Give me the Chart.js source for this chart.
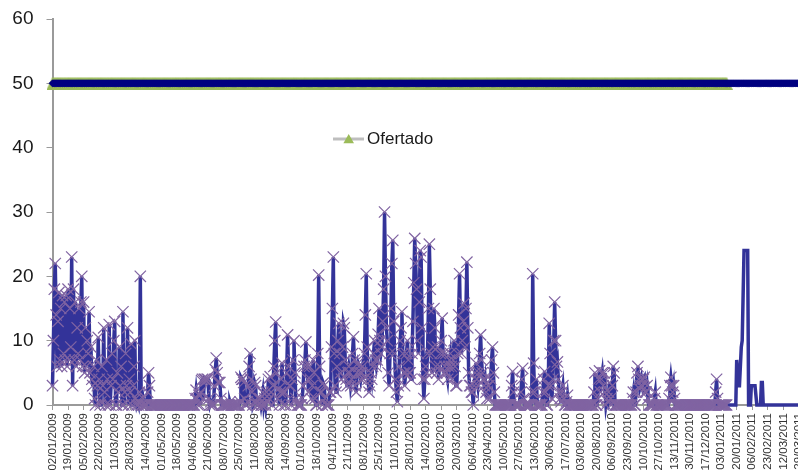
<!DOCTYPE html>
<html>
<head>
<meta charset="utf-8">
<script src="https://cdn.jsdelivr.net/npm/chart.js@4.4.1/dist/chart.umd.min.js"></script>
<style>
  html, body { margin: 0; padding: 0; background: #ffffff; overflow: hidden; width: 798px; height: 470px; }
  #wrap { width: 798px; height: 470px; overflow: hidden; position: relative; }
  canvas { display: block; }
</style>
</head>
<body>
<div id="wrap"><canvas id="chart" width="820" height="470"></canvas></div>
<script>
// Axis labels, one every 17 days starting 02/01/2009
const TICK_STEP = 17;
const tickLabels = [
  '02/01/2009','19/01/2009','05/02/2009','22/02/2009','11/03/2009','28/03/2009','14/04/2009',
  '01/05/2009','18/05/2009','04/06/2009','21/06/2009','08/07/2009','25/07/2009','11/08/2009',
  '28/08/2009','14/09/2009','01/10/2009','18/10/2009','04/11/2009','21/11/2009','08/12/2009',
  '25/12/2009','11/01/2010','28/01/2010','14/02/2010','03/03/2010','20/03/2010','06/04/2010',
  '23/04/2010','10/05/2010','27/05/2010','13/06/2010','30/06/2010','17/07/2010','03/08/2010',
  '20/08/2010','06/09/2010','23/09/2010','10/10/2010','27/10/2010','13/11/2010','30/11/2010',
  '17/12/2010','03/01/2011','20/01/2011','06/02/2011','23/02/2011','12/03/2011','29/03/2011'
];

// Daily demand, one row per 17-day label interval
const demanda = [
  3,10,18,22,14,6,13,17.5,7,15,6,17,8,16,7,17,6,
  18,7,15,9,23,3,18,7,16,6,12,8,15,7,16,20,6,
  16,5,12,6,10,8,14.5,5,9,4,3,6,1,0,7,3,10.5,
  4,0,0.5,6,3,12,2,0,7,4,0,12.5,0,3,8,4,10,
  13,0,0,5,2,9,3,6,0,14.5,0,2,8,3,12,0,4,
  2,9.5,0,3,6,10,1,0,0.5,0,2,20,0,0,1,0,0,
  0,0,2,5,3,0,0,0,0,0,0,0,0,0,0,0,0,
  0,0,0,0,0,0,0,0,0,0,0,0,0,0,0,0,0,
  0,0,0,0,0,0,0,0,0,0,0,0,0,0,0,0,0,
  0,0,0,1,2.3,1,0,1.5,0,2,3.8,4,1,4,4,3.8,4,
  4,1,0,0.5,0,0,0,3,5.5,7.3,5,3.5,3.5,3.5,1,0,0,
  0,0,0,0,0,0,0,0.5,0,0,0,0,0,0,0,0,0,
  0,0.5,4.3,4,4,3.5,1,0,0,0.5,3,6,8,4,2,0,0.5,
  3.5,3,0.5,0,0,1,1,0,0,2,0,1,0,2,0.5,4,1,
  4.4,2,0,3,6,10,12.9,5,1,2.5,0,2,4,6.5,2,0,2,
  0,5,10.9,6,3,3,0,4,7,10,5,1,0.5,0,0,0,0,
  0,1,3,6,7,9.8,6,4,2,6,4,1,3,7,5,1,0,
  0,8,20.2,6,2,2,0,3.4,3,1,0,0,0,0,2,2,9,
  15,23,8,3,2,6,10,12.7,8,5,4,9,12.7,12,7,4,3,
  5,6,5,3,4,8,10.6,7,3,2,5,6.5,6,5,4,5,6,
  4,8,14,20.4,9,4,2,3,5,4,6,8,10,7,6,7,11,
  15,10,8,9,13,18,30,20,12,10,5,3,8,15,22,25.6,13,
  8,4,2,0.5,3,6,10,12,14.5,8,5,3,5,8,10,7,5,
  5,4,8,13,19,25.9,22,18,10,8,16,24,23,12,4,1,4,
  6,5,8,15,25,18,8,5,9,15,12,6,5,9,4,6,8,
  10,13.5,8,5,6,8,5,4,6,7,8,6,4,7,10,6,3,
  3,8,14,20.4,12,8,10,13,15.8,9,15,22.2,12,5,3,3,2,
  2,0,3,5,6.5,4,3,5,8,10.9,7,5,4,3,4,2,1,
  3,3,1,4,7,9,5,2,0,0,0,0,0,0,0,0,0,
  0,0,0,0,0,0,0,0,0,3,5.2,2,0,0,0,0,0,
  0,0,2,4,5.7,1,0,0,0,0,0,0,0,0,2,20.4,6.5,
  2,0,4,0,0,0,0,0,0,2,4,5.2,2,0,0,3,12.7,
  8,3,1,4,10,16,10,6,6.7,4,2,1,0.5,2,3,1,0,
  0,0.5,1.5,0,0,0,0,0,0,0,0,0,0,0,0,0,0,
  0,0,0,0,0,0,0,0,0,0,0,0,0,0,2,5,0,
  0,1,4,5.3,2,4,5,3,5,2,0,1,0.5,2,3.5,1,0,
  3,6,5,0,0,0,0,0,0,0,0,0,0,0,0,0,0,
  0,0,0,0,0,1,2,0,0,2,5,6,4,2.5,3,4,3,
  4,4.3,2,2,3,1,0,0,0,0,0,0,1,2,0,0,0,
  0,0,0,0,0,0,0,0,0,0,0,1,3,4.3,3,2,3,
  1,0,0,0,0,0,0,0,0,0,0,0,0,0,0,0,0,
  0,0,0,0,0,0,0,0,0,0,0,0,0,0,0,0,0,
  0,0,0,0,0,0,0,0,0,0,0,2,4,1,0,0,0,
  0,0,0,0,0,0,0,0,0,0,0,0,0,0,0,0,0,
  7,5,3,3,6,9,10,17,24,24,24,24,24,0,0,0,3,
  3,3,3,3,3,0,0,0,0,0,3.5,3.5,0,0,0,0,0,
  0,0,0,0,0,0,0,0,0,0,0,0,0,0,0,0,0,
  0,0,0,0,0,0,0,0,0,0,0,0,0,0,0,0,0,
  0,0,0,0,0,0,0,0,0,0,0,0,0,0
];

// Offered level (constant) and the number of days it covers
const OFERTADO_VALUE = 50;
const OFERTADO_DAYS = 738;
const ofertado = Array.from({ length: OFERTADO_DAYS }, () => OFERTADO_VALUE);

// Capacity level, constant over the whole period
const CAPACIDAD_VALUE = 50;
const capacidad = demanda.map(() => CAPACIDAD_VALUE);

const COLORS = {
  capacidad: '#000080',
  ofertadoLine: '#BEBEBE',
  ofertadoMark: '#9BBB59',
  demandaLine: '#333399',
  demandaMark: '#8064A2',
  axis: '#9A9A9A'
};
const FONT = '"Liberation Sans", Arial, sans-serif';

// Triangle marker centred in its own box (apex up, flat base)
function triangleMarker(color, w, h) {
  const c = document.createElement('canvas');
  c.width = w; c.height = h;
  const g = c.getContext('2d');
  g.fillStyle = color;
  g.beginPath();
  g.moveTo(w / 2, 0);
  g.lineTo(w, h);
  g.lineTo(0, h);
  g.closePath();
  g.fill();
  return c;
}

const toPoints = arr => arr.map((v, i) => ({ x: i, y: v }));

// Single legend entry drawn inside the plot area
const legendEntry = {
  id: 'legendEntry',
  afterDraw(chart) {
    const ds = chart.data.datasets[1];
    const g = chart.ctx;
    g.save();
    g.strokeStyle = ds.borderColor;
    g.lineWidth = 3;
    g.beginPath();
    g.moveTo(333, 139);
    g.lineTo(364, 139);
    g.stroke();
    g.fillStyle = COLORS.ofertadoMark;
    g.beginPath();
    g.moveTo(348.7, 134);
    g.lineTo(354, 143.3);
    g.lineTo(343.4, 143.3);
    g.closePath();
    g.fill();
    g.fillStyle = '#1a1a1a';
    g.font = '17px ' + FONT;
    g.textBaseline = 'alphabetic';
    g.textAlign = 'left';
    g.fillText(ds.label, 367, 143.5);
    g.restore();
  }
};

new Chart(document.getElementById('chart'), {
  type: 'line',
  data: {
    datasets: [
      {
        label: 'Capacidad',
        data: toPoints(capacidad),
        borderColor: COLORS.capacidad,
        backgroundColor: COLORS.capacidad,
        borderWidth: 2,
        pointStyle: 'rectRot',
        pointRadius: 3.6,
        pointBorderWidth: 0.6,
        pointBorderColor: COLORS.capacidad,
        pointBackgroundColor: COLORS.capacidad,
        clip: false
      },
      {
        label: 'Ofertado',
        data: toPoints(ofertado),
        borderColor: COLORS.ofertadoLine,
        borderWidth: 2,
        pointStyle: triangleMarker(COLORS.ofertadoMark, 12, 13),
        pointRadius: 6,
        clip: false
      },
      {
        label: 'Demanda',
        data: toPoints(demanda),
        borderColor: COLORS.demandaLine,
        borderWidth: 3.5,
        pointStyle: 'crossRot',
        pointRadius: ctx => (ctx.dataIndex < OFERTADO_DAYS ? 8 : 0),
        pointBorderColor: COLORS.demandaMark,
        pointBorderWidth: 1.2,
        clip: false
      }
    ]
  },
  options: {
    responsive: false,
    animation: false,
    devicePixelRatio: 1,
    events: [],
    layout: { padding: { top: 19, right: 6, left: 0, bottom: 0 } },
    plugins: { legend: { display: false }, tooltip: { enabled: false } },
    elements: { line: { tension: 0 } },
    scales: {
      x: {
        type: 'linear',
        min: 0,
        max: demanda.length - 1,
        afterBuildTicks: s => { s.ticks = tickLabels.map((_, i) => ({ value: i * TICK_STEP })); },
        afterFit: s => { s.height = 65; },
        ticks: {
          autoSkip: false,
          minRotation: 90,
          maxRotation: 90,
          padding: 3,
          color: '#333333',
          font: { family: FONT, size: 11.5 },
          callback: v => tickLabels[Math.round(v / TICK_STEP)]
        },
        grid: { drawOnChartArea: false, tickLength: 5, color: COLORS.axis, lineWidth: 1 },
        border: { color: COLORS.axis, width: 2 }
      },
      y: {
        min: 0,
        max: 60,
        afterFit: s => { s.width = 52.5; s.paddingTop = 0; s.paddingBottom = 0; },
        ticks: {
          stepSize: 10,
          padding: 13,
          color: '#1a1a1a',
          font: { family: FONT, size: 19 }
        },
        grid: { drawOnChartArea: false, tickLength: 6, color: COLORS.axis, lineWidth: 1 },
        border: { color: COLORS.axis, width: 2 }
      }
    }
  },
  plugins: [legendEntry]
});
</script>
</body>
</html>
